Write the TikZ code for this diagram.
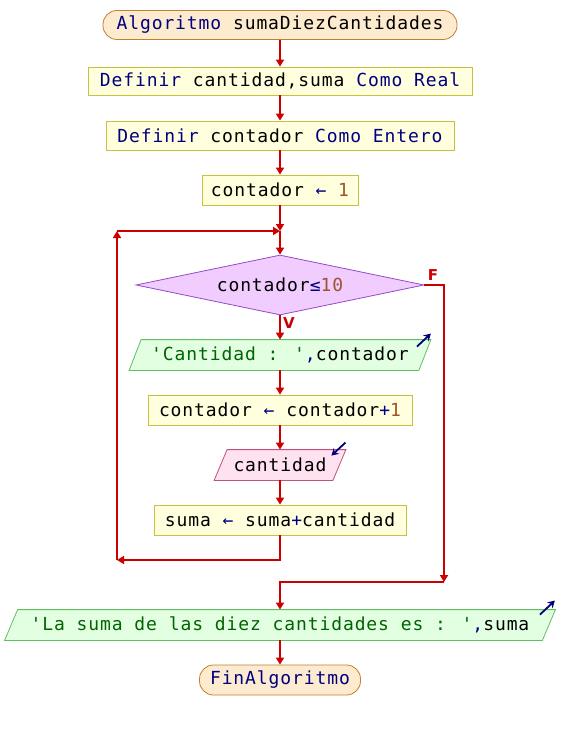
\documentclass[tikz,border=0pt]{standalone}
\usepackage{fontspec}
\usetikzlibrary{arrows.meta,calc,shapes.geometric}
\newfontfamily\codefont{DejaVu Sans Mono}[LetterSpace=5]
\newfontfamily\labfont{DejaVu Sans Bold}

\definecolor{flowred}{HTML}{CC0000}
\definecolor{kwblue}{HTML}{000080}
\definecolor{strgreen}{HTML}{006400}
\definecolor{numbrown}{HTML}{A0522D}
\definecolor{termfill}{HTML}{FDEBD0}
\definecolor{termdraw}{HTML}{C08030}
\definecolor{procfill}{HTML}{FFFFDD}
\definecolor{procdraw}{HTML}{C8C040}
\definecolor{condfill}{HTML}{F0CCFF}
\definecolor{conddraw}{HTML}{9848C8}
\definecolor{outfill}{HTML}{E2FFE2}
\definecolor{outdraw}{HTML}{60C060}
\definecolor{infill}{HTML}{FFE2F0}
\definecolor{indraw}{HTML}{C05080}

\newcommand\kw[1]{\textcolor{kwblue}{#1}}
\newcommand\strg[1]{\textcolor{strgreen}{#1}}
\newcommand\numv[1]{\textcolor{numbrown}{#1}}

\pgfdeclarelayer{paper}
\pgfdeclarelayer{background}
\pgfsetlayers{paper,background,main}

% parallelogram drawn around a node: name, slant, style
\newcommand\iobox[3]{%
  \begin{pgfonlayer}{background}
  \draw[#3] ($(#1.south west)+(-#2/2,0)$) -- ($(#1.north west)+(#2/2,0)$)
    -- ($(#1.north east)+(#2/2,0)$) -- ($(#1.south east)+(-#2/2,0)$) -- cycle;
  \end{pgfonlayer}}

\tikzset{
  base/.style={inner sep=0pt, font=\codefont\fontsize{18}{21}\selectfont, line width=0.8pt},
  term/.style={base, draw=termdraw, fill=termfill, rounded corners=14pt, minimum height=29pt},
  proc/.style={base, draw=procdraw, fill=procfill, minimum height=29pt},
  cond/.style={base, diamond, draw=conddraw, fill=condfill, aspect=4.8, minimum width=288pt, minimum height=60pt},
  io/.style={base, minimum height=30pt},
  outshape/.style={draw=outdraw, fill=outfill, line width=0.8pt},
  inshape/.style={draw=indraw, fill=infill, line width=0.8pt},
  flow/.style={draw=flowred, line width=1.8pt, -{Triangle[width=8pt,length=7pt]}},
  icon/.style={draw=kwblue, line width=1.8pt, -{Stealth[width=8pt,length=7pt]}},
  branch/.style={text=flowred, font=\labfont\fontsize{15}{17}\selectfont, inner sep=0pt}
}

\begin{document}
\begin{tikzpicture}[x=1pt,y=-1pt]
  \begin{pgfonlayer}{paper}
    \fill[white] (0,0) rectangle (560,730);
  \end{pgfonlayer}
  \useasboundingbox (0,0) rectangle (560,730);

  \node[term, minimum width=354pt] (start) at (280,25) {\kw{Algoritmo} sumaDiezCantidades};
  \node[proc, minimum width=384pt, minimum height=28pt] (def1) at (280,81) {\kw{Definir} cantidad,suma \kw{Como} \kw{Real}};
  \node[proc, minimum width=348pt] (def2) at (280,135.5) {\kw{Definir} contador \kw{Como} \kw{Entero}};
  \node[proc, minimum width=156pt, minimum height=30pt] (init) at (280,190) {contador \kw{←} \numv{1}};
  \node[cond] (cond) at (280,285) {contador\kw{≤}\numv{10}};
  \node[io, minimum width=289pt] (out1) at (280,355) {\strg{'Cantidad : '}\kw{,}contador};
  \node[proc, minimum width=264pt, minimum height=30pt] (inc) at (280,410) {contador \kw{←} contador\kw{+}\numv{1}};
  \node[io, minimum width=118pt] (in1) at (280,465) {cantidad};
  \node[proc, minimum width=252pt, minimum height=30pt] (acc) at (280,520) {suma \kw{←} suma\kw{+}cantidad};
  \node[io, minimum width=537pt] (result) at (280,625) {\strg{'La suma de las diez cantidades es : '}\kw{,}suma};
  \node[term, minimum width=161pt, minimum height=30pt] (fin) at (280,680) {\kw{FinAlgoritmo}};

  \iobox{out1}{12}{outshape}
  \iobox{in1}{13}{inshape}
  \iobox{result}{13}{outshape}

  % read / write markers
  \draw[icon] ($(out1.north east)+(-8,7)$) -- ($(out1.north east)+(6,-6)$);
  \draw[icon] ($(in1.north east)+(6,-7)$) -- ($(in1.north east)+(-8,6)$);
  \draw[icon] ($(result.north east)+(-9,5)$) -- ($(result.north east)+(6,-9)$);

  % branch labels
  \node[branch] (flab) at (433,275) {F};
  \node[branch] (vlab) at (289,323) {V};

  % junction points of the loop
  \coordinate (join) at (280,231);
  \coordinate (lb) at (117,560);
  \coordinate (lt) at (117,231);
  \coordinate (fb) at (444,582);

  \draw[flow] (start) -- (def1);
  \draw[flow] (def1) -- (def2);
  \draw[flow] (def2) -- (init);
  \draw[flow] (init) -- (join);
  \draw[flow] (join) -- (cond);
  \draw[flow] (cond) -- (out1);
  \draw[flow] (out1) -- (inc);
  \draw[flow] (inc) -- (in1);
  \draw[flow] (in1) -- (acc);
  \draw[flow] (acc) |- (lb);
  \draw[flow] (lb) -- (lt);
  \draw[flow] (lt) -- (join);
  \draw[flow] (cond.east) -| (fb);
  \draw[flow] (fb) -| (result.north);
  \draw[flow] (result) -- (fin);
\end{tikzpicture}
\end{document}
